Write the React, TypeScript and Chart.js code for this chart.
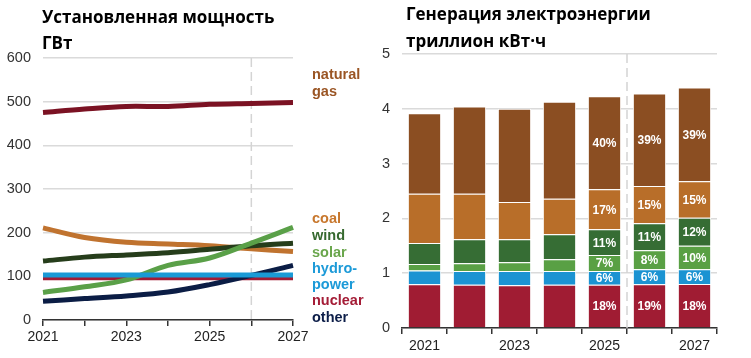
import React, { useEffect, useRef } from "react";
import { Chart, registerables } from "chart.js";
Chart.register(...registerables);

const years = ["2021", "2022", "2023", "2024", "2025", "2026", "2027"];

// Installed capacity, GW
const capGas = [475, 483, 489, 489, 494, 496, 498];
const capCoal = [211, 189, 178, 174, 170, 163, 157];
const capWind = [135, 144, 149, 154, 162, 170, 176];
const capSolar = [63, 76, 92, 125, 142, 176, 212];
const capHydro = [103, 103, 103, 103, 103, 103, 103];
const capNuclear = [97, 97, 97, 97, 97, 97, 97];
const capOther = [43, 49, 55, 64, 81, 102, 125];

// Generation, trillion kWh
const genNuclear = [0.8, 0.79, 0.78, 0.79, 0.79, 0.8, 0.805];
const genHydro = [0.25, 0.25, 0.26, 0.25, 0.25, 0.27, 0.265];
const genSolar = [0.12, 0.14, 0.16, 0.215, 0.29, 0.35, 0.43];
const genWind = [0.38, 0.44, 0.42, 0.455, 0.47, 0.49, 0.51];
const genCoal = [0.9, 0.83, 0.68, 0.65, 0.73, 0.68, 0.67];
const genGas = [1.47, 1.59, 1.7, 1.77, 1.7, 1.69, 1.71];

const pctNuclear = ["", "", "", "", "18%", "19%", "18%"];
const pctHydro = ["", "", "", "", "6%", "6%", "6%"];
const pctSolar = ["", "", "", "", "7%", "8%", "10%"];
const pctWind = ["", "", "", "", "11%", "11%", "12%"];
const pctCoal = ["", "", "", "", "17%", "15%", "15%"];
const pctGas = ["", "", "", "", "40%", "39%", "39%"];

const legendItems = [
  { text: "natural", color: "#9a5524", y: 74 },
  { text: "gas", color: "#9a5524", y: 90.5 },
  { text: "coal", color: "#c8782e", y: 218 },
  { text: "wind", color: "#36692f", y: 235 },
  { text: "solar", color: "#6aa64c", y: 251.5 },
  { text: "hydro-", color: "#1c9ad8", y: 268 },
  { text: "power", color: "#1c9ad8", y: 284 },
  { text: "nuclear", color: "#a41c36", y: 300 },
  { text: "other", color: "#0c1d48", y: 316.5 },
];

const FONT = "'Liberation Sans', Arial, sans-serif";

const dashedLinePlugin = (mode: "point" | "between") => ({
  id: "dashedLine",
  beforeDatasetsDraw(chart: any) {
    const { ctx, chartArea, scales } = chart;
    const xs = scales.x;
    let px: number;
    if (mode === "point") px = xs.getPixelForValue(5);
    else px = (xs.getPixelForValue(4) + xs.getPixelForValue(5)) / 2;
    ctx.save();
    ctx.strokeStyle = "#d4d4d4";
    ctx.lineWidth = 1.5;
    ctx.setLineDash([9, 5]);
    ctx.beginPath();
    ctx.moveTo(px, chartArea.top);
    ctx.lineTo(px, chartArea.bottom);
    ctx.stroke();
    ctx.restore();
  },
});

const pctLabelPlugin = {
  id: "pctLabels",
  afterDatasetsDraw(chart: any) {
    const { ctx } = chart;
    ctx.save();
    ctx.fillStyle = "#ffffff";
    ctx.font = `bold 12px ${FONT}`;
    ctx.textAlign = "center";
    ctx.textBaseline = "middle";
    chart.data.datasets.forEach((ds: any, di: number) => {
      const meta = chart.getDatasetMeta(di);
      meta.data.forEach((bar: any, i: number) => {
        const t = ds.pct[i];
        if (!t) return;
        ctx.fillText(t, bar.x, (bar.y + bar.base) / 2 + 1);
      });
    });
    ctx.restore();
  },
};

function LeftChart() {
  const ref = useRef<HTMLCanvasElement>(null);
  useEffect(() => {
    const mk = (data: number[], color: string) => ({
      data,
      borderColor: color,
      backgroundColor: color,
      borderWidth: 5,
      pointRadius: 0,
      tension: 0.35,
      fill: false,
    });
    const chart = new Chart(ref.current!, {
      type: "line",
      data: {
        labels: years,
        datasets: [
          mk(capHydro, "#1a9ad6"),
          mk(capGas, "#7b1223"),
          mk(capSolar, "#5aa048"),
          mk(capWind, "#263d1b"),
          mk(capCoal, "#c0732f"),
          mk(capOther, "#0b1d45"),
          mk(capNuclear, "#a31c35"),
        ] as any,
      },
      options: {
        animation: false,
        responsive: false,
        layout: { padding: { left: 0, right: 82, top: 58, bottom: 0 } },
        plugins: { legend: { display: false }, tooltip: { enabled: false } },
        scales: {
          x: {
            ticks: {
              autoSkip: false,
              maxRotation: 0,
              color: "#222",
              font: { size: 14, family: FONT },
              padding: 3,
              callback: (_v: any, i: number) => (i % 2 === 0 ? years[i] : ""),
            },
            grid: { drawOnChartArea: false, tickLength: 6, color: "#333", lineWidth: 1.5 },
            border: { color: "#333", width: 1.5 },
            afterFit: (s: any) => {
              s.height = 38;
            },
          },
          y: {
            min: 0,
            max: 600,
            ticks: { stepSize: 100, color: "#333", font: { size: 14.5, family: FONT }, padding: 12 },
            grid: { color: "#dadada", lineWidth: 1.5, drawTicks: false },
            border: { display: false },
            afterFit: (s: any) => {
              s.width = 43;
            },
          },
        },
      },
      plugins: [dashedLinePlugin("point")],
    } as any);
    return () => chart.destroy();
  }, []);
  return <canvas ref={ref} width={375} height={358} style={{ position: "absolute", left: 0, top: 0 }} />;
}

function RightChart() {
  const ref = useRef<HTMLCanvasElement>(null);
  useEffect(() => {
    const mk = (data: number[], pct: string[], color: string) => ({
      data,
      pct,
      backgroundColor: color,
      borderColor: "#ffffff",
      borderWidth: 1,
      barPercentage: 0.74,
      categoryPercentage: 1,
    });
    const chart = new Chart(ref.current!, {
      type: "bar",
      data: {
        labels: years,
        datasets: [
          mk(genNuclear, pctNuclear, "#a01c33"),
          mk(genHydro, pctHydro, "#1b93d2"),
          mk(genSolar, pctSolar, "#59a044"),
          mk(genWind, pctWind, "#366d34"),
          mk(genCoal, pctCoal, "#b86e29"),
          mk(genGas, pctGas, "#8b4e22"),
        ] as any,
      },
      options: {
        animation: false,
        responsive: false,
        layout: { padding: { left: 0, right: 34, top: 54, bottom: 0 } },
        plugins: { legend: { display: false }, tooltip: { enabled: false } },
        scales: {
          x: {
            stacked: true,
            offset: true,
            ticks: {
              autoSkip: false,
              maxRotation: 0,
              color: "#222",
              font: { size: 14, family: FONT },
              padding: 4,
              callback: (_v: any, i: number) => (i % 2 === 0 ? years[i] : ""),
            },
            grid: { offset: true, drawOnChartArea: false, tickLength: 6, color: "#333", lineWidth: 1.5 },
            border: { color: "#333", width: 1.5 },
            afterFit: (s: any) => {
              s.height = 30;
            },
          },
          y: {
            stacked: true,
            min: 0,
            max: 5,
            ticks: { stepSize: 1, color: "#333", font: { size: 14.5, family: FONT }, padding: 12 },
            grid: { color: "#dadada", lineWidth: 1.5, drawTicks: false },
            border: { display: false },
            afterFit: (s: any) => {
              s.width = 27;
            },
          },
        },
      },
      plugins: [dashedLinePlugin("between"), pctLabelPlugin],
    } as any);
    return () => chart.destroy();
  }, []);
  return <canvas ref={ref} width={376} height={358} style={{ position: "absolute", left: 375, top: 0 }} />;
}

export default function App() {
  const titleStyle: React.CSSProperties = {
    position: "absolute",
    fontFamily: "'Open Sans', 'Liberation Sans', Arial, sans-serif",
    fontWeight: 700,
    fontSize: 17,
    color: "#000",
    whiteSpace: "nowrap",
    lineHeight: "26px",
  };
  return (
    <div
      style={{
        position: "fixed",
        left: 0,
        top: 0,
        width: 751,
        height: 358,
        background: "#fff",
        overflow: "hidden",
      }}
    >
      <LeftChart />
      <RightChart />
      <div style={{ ...titleStyle, left: 42, top: 4 }}>
        Установленная мощность
        <br />
        ГВт
      </div>
      <div style={{ ...titleStyle, left: 406, top: 0, lineHeight: "27px" }}>
        Генерация электроэнергии
        <br />
        триллион кВт·ч
      </div>
      {legendItems.map((it, i) => (
        <div
          key={i}
          style={{
            position: "absolute",
            left: 312,
            top: it.y - 9,
            height: 18,
            lineHeight: "18px",
            fontFamily: FONT,
            fontWeight: 700,
            fontSize: 14.5,
            color: it.color,
            whiteSpace: "nowrap",
          }}
        >
          {it.text}
        </div>
      ))}
    </div>
  );
}
